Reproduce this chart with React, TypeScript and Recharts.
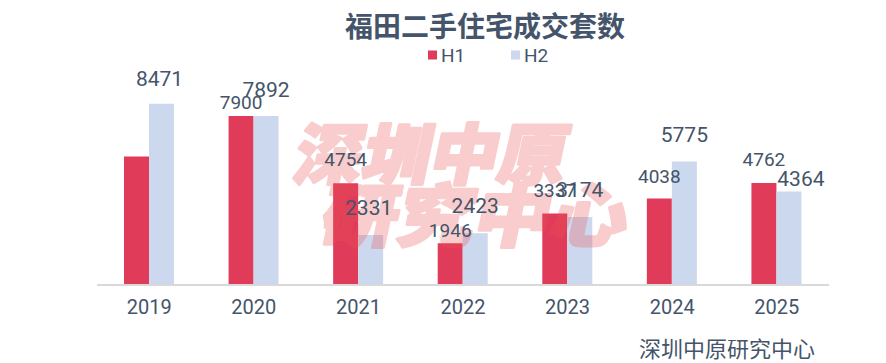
import React from 'react';
import { BarChart, Bar, XAxis, YAxis, LabelList } from 'recharts';

const YEARS = ['2019', '2020', '2021', '2022', '2023', '2024', '2025'];
const H1 = [6010, 7900, 4754, 1946, 3337, 4038, 4762];
const H2 = [8471, 7892, 2331, 2423, 3174, 5775, 4364];
const H1_LABELS = ['', '7900', '4754', '1946', '3337', '4038', '4762'];
const H2_LABELS = ['8471', '7892', '2331', '2423', '3174', '5775', '4364'];
const SERIES = ['H1', 'H2'];
const TITLE = '福田二手住宅成交套数';
const SOURCE = '深圳中原研究中心';
const WATERMARK = ['深圳中原', '研究中心'];

// label placement style (px above bar top / horizontal shift)
const H1_LIFT = [17, 7, 17, 6, 17, 16, 17];
const H2_LIFT = [18, 19, 20, 20, 20, 19, 6];
const H2_SHIFT = [-2, 0, -2, 0, 0, 0, 12];

const W = 886;
const H = 363;
const RED = '#E03C5A';
const BLUE = '#CCD8EE';
const TEXT = '#44546A';
const FONT = 'Roboto, "Noto Sans", sans-serif';
const CJK = '"Noto Sans CJK SC", "Noto Sans", sans-serif';
const MARGIN = { top: 71, right: 57, bottom: 0, left: 97 };

const data = YEARS.map((year, i) => ({ year, h1: H1[i], h2: H2[i] }));

const makeLabel = (labels: string[], lift: number[], shift: number[] | null, size: number) => (props: any) => {
  const { x, y, width, index } = props;
  const text = labels[index];
  if (!text) return null;
  return (
    <text
      x={Number(x) + Number(width) / 2 + (shift ? shift[index] : 0)}
      y={Number(y) - lift[index]}
      textAnchor="middle"
      fill={TEXT}
      fontSize={size}
      fontFamily={FONT}
    >
      {text}
    </text>
  );
};

const layer: React.CSSProperties = { position: 'absolute', left: 0, top: 0 };

export default function App() {
  return (
    <div style={{ position: 'fixed', left: 0, top: 0, width: W, height: H, background: '#fff', overflow: 'hidden' }}>
      <div style={layer}>
        <BarChart width={W} height={H} data={data} margin={MARGIN} barGap={0} barSize={25}>
          <XAxis
            dataKey="year"
            height={78}
            axisLine={{ stroke: '#D9D9D9', strokeWidth: 2 }}
            tickLine={false}
            tickMargin={9}
            tick={{ fill: TEXT, fontSize: 20, fontFamily: FONT }}
          />
          <YAxis hide domain={[0, 10000]} />
          <Bar dataKey="h1" fill={RED} isAnimationActive={false} />
          <Bar dataKey="h2" fill={BLUE} isAnimationActive={false} />
        </BarChart>
      </div>
      <svg style={layer} width={W} height={H}>
        <g opacity={0.28} fill="rgb(236,80,80)" stroke="rgb(236,80,80)" strokeWidth={3} strokeLinejoin="round" fontFamily={CJK} fontWeight={900}>
          <g transform="translate(433,150) skewX(-12)">
            <text x={0} y={0} textAnchor="middle" dominantBaseline="central" fontSize={66} textLength={272} lengthAdjust="spacingAndGlyphs">
              {WATERMARK[0]}
            </text>
          </g>
          <g transform="translate(477,211) skewX(-12)">
            <text x={0} y={0} textAnchor="middle" dominantBaseline="central" fontSize={68} textLength={306} lengthAdjust="spacingAndGlyphs">
              {WATERMARK[1]}
            </text>
          </g>
        </g>
      </svg>
      <div style={layer}>
        <BarChart width={W} height={H} data={data} margin={MARGIN} barGap={0} barSize={25}>
          <XAxis dataKey="year" height={78} axisLine={false} tickLine={false} tick={false} />
          <YAxis hide domain={[0, 10000]} />
          <Bar dataKey="h1" fill="none" isAnimationActive={false}>
            <LabelList dataKey="h1" content={makeLabel(H1_LABELS, H1_LIFT, null, 19)} />
          </Bar>
          <Bar dataKey="h2" fill="none" isAnimationActive={false}>
            <LabelList dataKey="h2" content={makeLabel(H2_LABELS, H2_LIFT, H2_SHIFT, 21)} />
          </Bar>
        </BarChart>
      </div>
      <svg style={layer} width={W} height={H}>
        <text x={485} y={25} textAnchor="middle" dominantBaseline="central" fontSize={28} fontWeight="bold" fill={TEXT} fontFamily={CJK}>
          {TITLE}
        </text>
        <rect x={428} y={50.5} width={9} height={9} fill={RED} />
        <text x={441} y={55} dominantBaseline="central" fontSize={19} fill={TEXT} fontFamily={FONT}>
          {SERIES[0]}
        </text>
        <rect x={511} y={50.5} width={9} height={9} fill={BLUE} />
        <text x={524} y={55} dominantBaseline="central" fontSize={19} fill={TEXT} fontFamily={FONT}>
          {SERIES[1]}
        </text>
        <text x={727} y={347} textAnchor="middle" dominantBaseline="central" fontSize={22} fill={TEXT} fontFamily={CJK}>
          {SOURCE}
        </text>
      </svg>
    </div>
  );
}
